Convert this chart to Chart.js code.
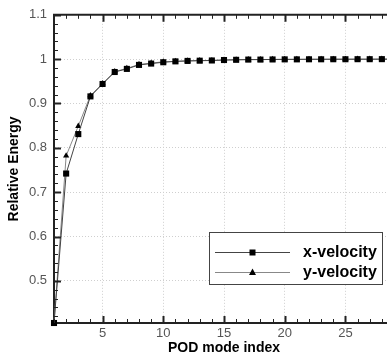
<!DOCTYPE html>
<html><head><meta charset="utf-8">
<script src="https://cdn.jsdelivr.net/npm/chart.js@4"></script>
<style>html,body{margin:0;padding:0;overflow:hidden;background:#fff;width:387px;height:359px}
#wrap{width:400px;height:359px}</style></head>
<body><div id="wrap"><canvas id="c" width="400" height="359"></canvas></div>
<script>
const modes = [1,2,3,4,5,6,7,8,9,10,11,12,13,14,15,16,17,18,19,20,21,22,23,24,25,26,27,28,29];
const xVelocity = [0.405,0.742,0.831,0.916,0.944,0.971,0.978,0.987,0.990,0.993,0.995,0.996,0.9965,0.997,0.998,0.9985,0.999,0.999,0.9993,0.9995,0.9995,0.9997,0.9997,0.9998,0.9998,0.9999,0.9999,1.0,1.0];
const yVelocity = [0.405,0.782,0.849,0.918,0.945,0.972,0.979,0.988,0.991,0.994,0.995,0.996,0.9967,0.997,0.998,0.9985,0.999,0.999,0.9993,0.9995,0.9995,0.9997,0.9997,0.9998,0.9998,0.9999,0.9999,1.0,1.0];
const xTicks = [5,10,15,20,25];
const yTicks = [0.5,0.6,0.7,0.8,0.9,1.0,1.1];
const seriesNames = ['x-velocity','y-velocity'];

const FONT = "'Liberation Sans', Arial, sans-serif";

const frame = {
  id: 'frame',
  afterDraw(chart) {
    const {ctx, chartArea: a, scales: {x, y}} = chart;
    ctx.save();
    ctx.strokeStyle = '#222';
    ctx.lineWidth = 2;
    ctx.beginPath(); ctx.moveTo(a.left - 1, a.top); ctx.lineTo(a.right, a.top); ctx.stroke();
    for (let v = Math.ceil(x.min); v <= x.max; v++) {
      const px = Math.round(x.getPixelForValue(v)) + 0.5;
      const major = v % 5 === 0;
      const len = major ? 7 : 4;
      ctx.lineWidth = major ? 2 : 1;
      ctx.beginPath();
      ctx.moveTo(px, a.bottom); ctx.lineTo(px, a.bottom - len);
      ctx.moveTo(px, a.top); ctx.lineTo(px, a.top + len);
      ctx.stroke();
    }
    for (let i = Math.ceil(y.min / 0.02 - 1e-6); i * 0.02 <= y.max + 1e-9; i++) {
      const py = Math.round(y.getPixelForValue(i * 0.02)) + 0.5;
      const major = i % 5 === 0;
      const len = major ? 7 : 4;
      ctx.lineWidth = major ? 2 : 1;
      ctx.beginPath();
      ctx.moveTo(a.left, py); ctx.lineTo(a.left + len, py);
      ctx.stroke();
    }
    // legend box
    const bx = 209.5, by = 232.5, bw = 173, bh = 52;
    ctx.fillStyle = '#fff';
    ctx.fillRect(bx, by, bw, bh);
    ctx.strokeStyle = '#444';
    ctx.lineWidth = 1;
    ctx.strokeRect(bx, by, bw, bh);
    chart.data.datasets.forEach((ds, i) => {
      const ry = 252 + i * 20 + 0.5;
      ctx.strokeStyle = ds.borderColor;
      ctx.lineWidth = 1;
      ctx.beginPath(); ctx.moveTo(215, ry); ctx.lineTo(290, ry); ctx.stroke();
      ctx.fillStyle = '#000';
      if (ds.pointStyle === 'rect') {
        ctx.fillRect(249.5, ry - 3, 6, 6);
      } else {
        ctx.beginPath(); ctx.moveTo(252.5, ry - 4); ctx.lineTo(256, ry + 2.5); ctx.lineTo(249, ry + 2.5); ctx.closePath(); ctx.fill();
      }
      ctx.fillStyle = '#000';
      ctx.font = 'bold 16px ' + FONT;
      ctx.textBaseline = 'middle';
      ctx.textAlign = 'left';
      ctx.fillText(ds.label, 303, ry);
    });
    ctx.restore();
  }
};

new Chart(document.getElementById('c'), {
  type: 'line',
  data: {
    datasets: [
      { label: seriesNames[0], data: modes.map((m, i) => ({x: m, y: xVelocity[i]})),
        borderColor: '#444', borderWidth: 1, pointStyle: 'rect', pointRadius: 4.3,
        pointBackgroundColor: '#000', pointBorderColor: '#000', pointBorderWidth: 0, tension: 0, clip: false },
      { label: seriesNames[1], data: modes.map((m, i) => ({x: m, y: yVelocity[i]})),
        borderColor: '#888', borderWidth: 1, pointStyle: 'triangle', pointRadius: 3.6,
        pointBackgroundColor: '#000', pointBorderColor: '#000', pointBorderWidth: 0, tension: 0, clip: false }
    ]
  },
  options: {
    responsive: false,
    animation: false,
    devicePixelRatio: 1,
    layout: { padding: { left: 0, top: 13, right: 6, bottom: 0 } },
    plugins: { legend: { display: false }, tooltip: { enabled: false } },
    scales: {
      x: {
        type: 'linear', min: 1, max: 29,
        afterBuildTicks: s => { s.ticks = xTicks.map(v => ({value: v})); },
        afterFit: s => { s.height = 36; },
        grid: { color: '#cfcfcf', drawTicks: false },
        border: { display: true, color: '#222', width: 2, dash: [1, 2] },
        ticks: { color: '#555', font: { family: FONT, size: 13 }, padding: 3, maxRotation: 0 },
        title: { display: true, text: 'POD mode index', color: '#000',
          font: { family: FONT, size: 14, weight: 'bold' }, padding: { top: 0, bottom: 2 } }
      },
      y: {
        type: 'linear', min: 0.405, max: 1.1,
        afterBuildTicks: s => { s.ticks = yTicks.map(v => ({value: v})); },
        afterFit: s => { s.width = 54; },
        grid: { color: '#cfcfcf', drawTicks: false },
        border: { display: true, color: '#222', width: 2, dash: [1, 2] },
        ticks: { color: '#555', font: { family: FONT, size: 13 }, padding: 7,
          callback: v => String(Math.round(v * 10) / 10) },
        title: { display: true, text: 'Relative Energy', color: '#000',
          font: { family: FONT, size: 14, weight: 'bold' }, padding: { top: 6, bottom: 0 } }
      }
    }
  },
  plugins: [frame]
});
</script>
</body></html>
